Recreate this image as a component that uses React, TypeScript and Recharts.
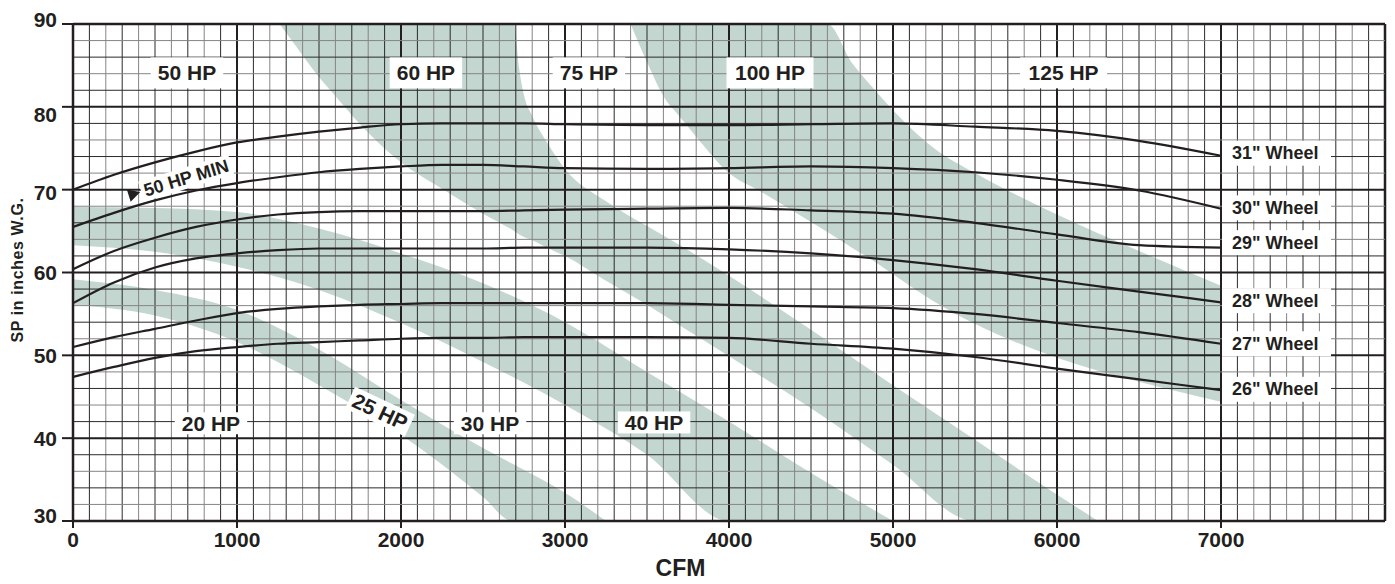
import React from 'react';
import {
  ComposedChart,
  Area,
  Line,
  XAxis,
  YAxis,
  ReferenceLine,
  ReferenceDot,
  Label,
} from 'recharts';

const FONT = '"Liberation Sans", Arial, Helvetica, sans-serif';
const INK = '#231f20';
const BAND = '#c3d6cf';

// ---------- axes ----------
const xTicks = [0, 1000, 2000, 3000, 4000, 5000, 6000, 7000];
const yTicks = [30, 40, 50, 60, 70, 80, 90];
const X_MAX = 8000;
const xGrid = Array.from({ length: X_MAX / 100 + 1 }, (_, i) => i * 100);
const yGrid = Array.from({ length: 31 }, (_, i) => 30 + i * 2);

// ---------- HP bands (low / high SP boundary at each CFM) ----------
const band25X = [0, 500, 1000, 1500, 2000, 2500, 2680, 3000, 3250];
const band25Lo = [56.1, 54.8, 51.6, 46.4, 40.4, 32.9, 30, 30, 30];
const band25Hi = [59.2, 57.9, 55.5, 50.7, 44.6, 38.8, 36.9, 33.4, 30];

const band40X = [0, 500, 1000, 1500, 2000, 2500, 3000, 3500, 4000, 4500, 5000];
const band40Lo = [63.3, 62.5, 60.7, 57.9, 53.9, 49.2, 44.0, 38.0, 30, 30, 30];
const band40Hi = [67.9, 67.8, 67.3, 65.3, 62.3, 58.7, 54.0, 48.0, 42.0, 35.8, 30];

const band60X = [1260, 1350, 1500, 1600, 1750, 2000, 2250, 2500, 2690, 2720, 2750, 2800, 2900, 3000, 3250, 3500, 3700, 4000, 4500, 5000, 5500, 5800, 6250];
const band60Lo = [90, 87.6, 83.6, 81.3, 77.9, 73.3, 70.1, 67.1, 65.0, 64.6, 64.3, 63.9, 62.9, 62.0, 59.0, 56.1, 53.6, 49.9, 43.6, 36.8, 30, 30, 30];
const band60Hi = [90, 90, 90, 90, 90, 90, 90, 90, 90, 84.7, 81.4, 78.9, 75.4, 72.5, 68.6, 65.6, 63.3, 59.6, 53.1, 46.4, 39.8, 35.8, 30];

const band100X = [3400, 3500, 3600, 3700, 3800, 4000, 4200, 4500, 4600, 4750, 4850, 5000, 5250, 5500, 6000, 6500, 7000];
const band100Lo = [90, 85.4, 81.3, 78.8, 76.4, 72.0, 69.7, 66.1, 64.9, 63.0, 61.8, 59.8, 56.5, 53.8, 49.7, 46.8, 44.4];
const band100Hi = [90, 90, 90, 90, 90, 90, 90, 90, 90, 85.3, 82.9, 79.6, 75.0, 72.0, 67.0, 62.6, 58.4];

// ---------- wheel curves ----------
const wheelX = [0, 250, 500, 750, 1000, 1250, 1500, 1750, 2000, 2250, 2500, 2750, 3000, 3500, 4000, 4500, 5000, 5500, 6000, 6500, 7000];
const wheel31 = [70.0, 71.8, 73.3, 74.6, 75.7, 76.4, 77.0, 77.5, 77.9, 78.0, 78.0, 78.0, 77.9, 77.8, 77.8, 77.9, 78.0, 77.6, 77.1, 75.9, 74.1];
const wheel30 = [65.5, 67.2, 68.7, 69.9, 70.8, 71.5, 72.1, 72.5, 72.8, 73.0, 73.0, 72.8, 72.6, 72.5, 72.6, 72.8, 72.6, 72.1, 71.2, 69.9, 67.7];
const wheel29 = [60.4, 62.6, 64.2, 65.5, 66.4, 67.0, 67.3, 67.4, 67.4, 67.4, 67.4, 67.5, 67.6, 67.7, 67.8, 67.5, 67.1, 66.0, 64.6, 63.3, 63.0];
const wheel28 = [56.3, 58.8, 60.6, 61.7, 62.3, 62.7, 62.9, 62.9, 62.9, 62.9, 62.9, 63.0, 63.0, 63.0, 62.8, 62.3, 61.5, 60.4, 59.0, 57.7, 56.4];
const wheel27 = [51.0, 52.2, 53.2, 54.2, 55.1, 55.6, 55.9, 56.1, 56.2, 56.3, 56.3, 56.3, 56.3, 56.3, 56.1, 55.9, 55.7, 55.0, 53.9, 52.8, 51.4];
const wheel26 = [47.4, 48.6, 49.7, 50.5, 51.0, 51.4, 51.6, 51.8, 52.0, 52.1, 52.1, 52.2, 52.2, 52.2, 52.1, 51.4, 50.8, 49.8, 48.4, 47.1, 45.8];
const wheelSeries = [wheel31, wheel30, wheel29, wheel28, wheel27, wheel26];

const wheelNames = ['31" Wheel', '30" Wheel', '29" Wheel', '28" Wheel', '27" Wheel', '26" Wheel'];
const wheelLabelX = 7000;
const wheelLabelY = [74.4, 67.8, 63.6, 56.6, 51.4, 45.9];

// ---------- HP region labels ----------
const topHpNames = ['50 HP', '60 HP', '75 HP', '100 HP', '125 HP'];
const topHpX = [695, 2152, 3146, 4250, 6040];
const topHpY = [84.1, 84.1, 84.1, 84.1, 84.1];

const lowHpNames = ['20 HP', '30 HP', '40 HP'];
const lowHpX = [841, 2543, 3543];
const lowHpY = [41.8, 41.8, 41.9];

const slantHpName = '25 HP';
const slantHpX = 1872;
const slantHpY = 43.2;

const minLabelName = '50 HP MIN';
const minLabelX = 690;
const minLabelY = 71.4;

// ---------- helpers ----------
const toBand = (xs: number[], lo: number[], hi: number[]) =>
  xs.map((x, i) => ({ x, range: [lo[i], hi[i]] }));
const toSeries = (xs: number[], ys: number[]) => xs.map((x, i) => ({ x, y: ys[i] }));

const bands = [
  toBand(band25X, band25Lo, band25Hi),
  toBand(band40X, band40Lo, band40Hi),
  toBand(band60X, band60Lo, band60Hi),
  toBand(band100X, band100Lo, band100Hi),
];

const textStyle = { fill: INK, fontFamily: FONT, fontWeight: 700 } as const;

const yTickShift: Record<number, number> = { 90: -5, 80: 8, 70: 3, 30: -6 };

function YTick(props: any) {
  const { x, y, payload } = props;
  return (
    <text
      x={x}
      y={y + (yTickShift[payload.value] || 0)}
      textAnchor="end"
      dominantBaseline="central"
      fontSize={21}
      {...textStyle}
    >
      {payload.value}
    </text>
  );
}

function boxLabel(text: string, w: number, h: number, fontSize: number, angle = 0) {
  return (props: any) => {
    const { cx, cy } = props;
    return (
      <g transform={`translate(${cx},${cy}) rotate(${angle})`}>
        <rect x={-w / 2} y={-h / 2} width={w} height={h} fill="#fff" />
        <text x={0} y={0} textAnchor="middle" dominantBaseline="central" fontSize={fontSize} {...textStyle}>
          {text}
        </text>
      </g>
    );
  };
}

function wheelLabel(text: string) {
  return (props: any) => {
    const { cx, cy } = props;
    return (
      <g transform={`translate(${cx},${cy})`}>
        <rect x={1} y={-12.5} width={109} height={25} fill="#fff" />
        <text x={11} y={0} textAnchor="start" dominantBaseline="central" fontSize={18} {...textStyle}>
          {text}
        </text>
      </g>
    );
  };
}

function minLabel(text: string) {
  return (props: any) => {
    const { cx, cy } = props;
    const w = 94;
    return (
      <g transform={`translate(${cx},${cy}) rotate(-17)`}>
        <rect x={-w / 2} y={-10.5} width={w} height={21} fill="#fff" />
        <polygon points={`${-w / 2 - 13},-6.5 ${-w / 2 - 1},0 ${-w / 2 - 13},6.5`} fill={INK} />
        <text x={0} y={0} textAnchor="middle" dominantBaseline="central" fontSize={18} {...textStyle}>
          {text}
        </text>
      </g>
    );
  };
}

function gridStroke(major: boolean, dark: boolean) {
  if (major) return { stroke: INK, strokeWidth: 2 };
  return dark ? { stroke: '#2a2a2a', strokeWidth: 1 } : { stroke: '#858585', strokeWidth: 1 };
}

export default function App() {
  return (
    <ComposedChart
      width={1387}
      height={576}
      margin={{ top: 16, right: 10, bottom: 33, left: 20 }}
      style={{ background: '#fff' }}
    >
      <XAxis
        type="number"
        dataKey="x"
        domain={[0, X_MAX]}
        ticks={xTicks}
        interval={0}
        allowDataOverflow
        height={30}
        axisLine={{ stroke: INK, strokeWidth: 2.5 }}
        tickLine={{ stroke: INK, strokeWidth: 2 }}
        tickSize={7}
        tickMargin={4}
        tick={{ ...textStyle, fontSize: 21 }}
      >
        <Label
          content={(p: any) => {
            const vb = p.viewBox || {};
            return (
              <text
                x={vb.x + vb.width * 0.463}
                y={vb.y + vb.height + 25}
                textAnchor="middle"
                fontSize={23}
                {...textStyle}
              >
                CFM
              </text>
            );
          }}
        />
      </XAxis>
      <YAxis
        type="number"
        domain={[30, 90]}
        ticks={yTicks}
        interval={0}
        allowDataOverflow
        width={45}
        axisLine={{ stroke: INK, strokeWidth: 2.5 }}
        tickLine={{ stroke: INK, strokeWidth: 2 }}
        tickSize={11}
        tickMargin={5}
        tick={<YTick />}
      >
        <Label
          content={(p: any) => {
            const vb = p.viewBox || {};
            const lx = vb.x - 10;
            const ly = vb.y + vb.height * 0.495;
            return (
              <text
                x={lx}
                y={ly}
                transform={`rotate(-90 ${lx} ${ly})`}
                textAnchor="middle"
                dominantBaseline="central"
                fontSize={16}
                letterSpacing={0.6}
                {...textStyle}
              >
                SP in inches W.G.
              </text>
            );
          }}
        />
      </YAxis>

      {bands.map((b, i) => (
        <Area
          key={'band' + i}
          data={b}
          dataKey="range"
          type="monotone"
          fill={BAND}
          fillOpacity={1}
          stroke="none"
          isAnimationActive={false}
          activeDot={false}
        />
      ))}

      {xGrid.map((v) => (
        <ReferenceLine
          key={'gx' + v}
          x={v}
          ifOverflow="visible"
          {...(v === X_MAX
            ? { stroke: INK, strokeWidth: 2.5 }
            : gridStroke(v % 1000 === 0, (v / 100) % 2 === 1))}
        />
      ))}
      {yGrid.map((v) => (
        <ReferenceLine
          key={'gy' + v}
          y={v}
          ifOverflow="visible"
          {...(v === 90
            ? { stroke: INK, strokeWidth: 2.5 }
            : gridStroke(v % 10 === 0, (v / 2) % 2 === 1))}
        />
      ))}

      {wheelSeries.map((s, i) => (
        <Line
          key={'wheel' + i}
          data={toSeries(wheelX, s)}
          dataKey="y"
          type="monotone"
          stroke={INK}
          strokeWidth={2.2}
          dot={false}
          activeDot={false}
          isAnimationActive={false}
        />
      ))}

      {topHpNames.map((n, i) => (
        <ReferenceDot
          key={'thp' + i}
          x={topHpX[i]}
          y={topHpY[i]}
          r={0}
          shape={boxLabel(n, n.length * 14.5, 31, 21)}
        />
      ))}
      {lowHpNames.map((n, i) => (
        <ReferenceDot
          key={'lhp' + i}
          x={lowHpX[i]}
          y={lowHpY[i]}
          r={0}
          shape={boxLabel(n, n.length * 14.5, 22, 21)}
        />
      ))}
      <ReferenceDot x={slantHpX} y={slantHpY} r={0} shape={boxLabel(slantHpName, 66, 24, 21, 25)} />
      <ReferenceDot x={minLabelX} y={minLabelY} r={0} shape={minLabel(minLabelName)} />

      {wheelNames.map((n, i) => (
        <ReferenceDot key={'wl' + i} x={wheelLabelX} y={wheelLabelY[i]} r={0} shape={wheelLabel(n)} />
      ))}
    </ComposedChart>
  );
}
